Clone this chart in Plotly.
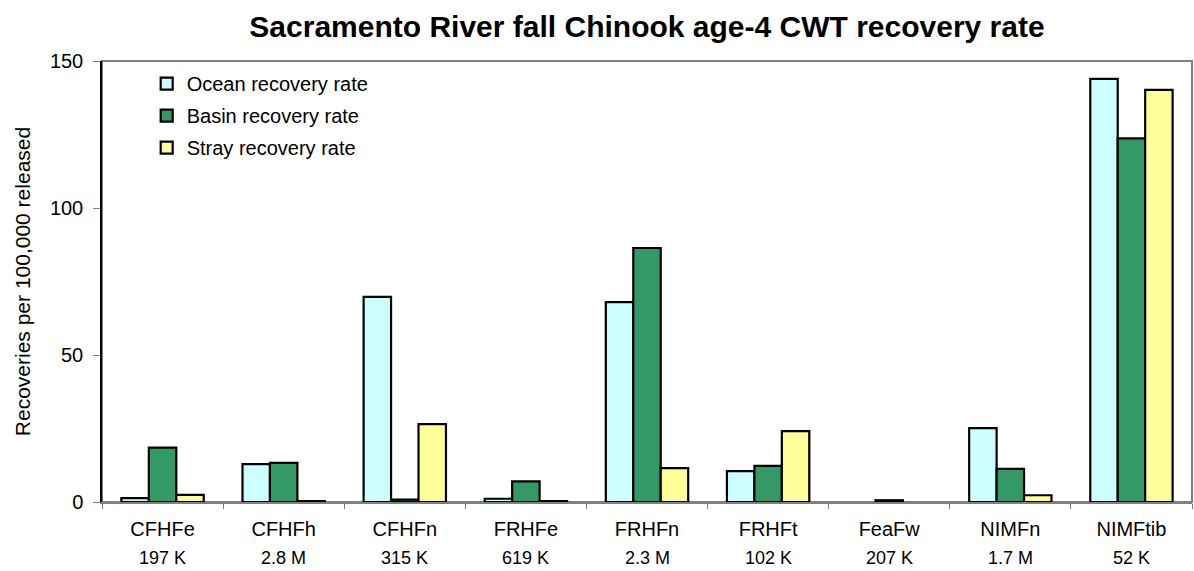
import plotly.graph_objects as go

# Release groups and their release sizes
groups = ["CFHFe", "CFHFh", "CFHFn", "FRHFe", "FRHFn", "FRHFt", "FeaFw", "NIMFn", "NIMFtib"]
releases = ["197 K", "2.8 M", "315 K", "619 K", "2.3 M", "102 K", "207 K", "1.7 M", "52 K"]

# Recoveries per 100,000 released
ocean = [1.3, 12.9, 69.8, 1.1, 68.0, 10.5, 0, 25.1, 143.9]
basin = [18.5, 13.3, 0.8, 7.0, 86.4, 12.3, 0.6, 11.3, 123.7]
stray = [2.4, 0.3, 26.5, 0.3, 11.5, 24.1, 0, 2.3, 140.2]

FONT = "Arial, Liberation Sans, sans-serif"

fig = go.Figure()
for name, vals, color in [
    ("Ocean recovery rate", ocean, "#CCFFFF"),
    ("Basin recovery rate", basin, "#339966"),
    ("Stray recovery rate", stray, "#FFFF99"),
]:
    fig.add_trace(go.Bar(
        x=groups, y=[v if v > 0 else None for v in vals], name=name,
        legendgroup=name,
        marker=dict(color=color, line=dict(color="black", width=2.2)),
    ))

# release size under each group label
for g, r in zip(groups, releases):
    fig.add_annotation(
        x=g, y=0, xref="x", yref="paper", text=r, showarrow=False,
        yanchor="middle", yshift=-56, font=dict(family=FONT, size=18, color="black"),
    )

# plot-area frame
fig.add_shape(type="rect", xref="paper", yref="paper", x0=0, y0=0, x1=1, y1=1,
              line=dict(color="#808080", width=2), layer="below")

fig.update_layout(
    width=1194, height=571,
    margin=dict(l=102, r=2, t=61, b=69),
    paper_bgcolor="white", plot_bgcolor="white",
    font=dict(family=FONT, color="black"),
    title=dict(
        text="<b>Sacramento River fall Chinook age-4 CWT recovery rate</b>",
        x=0.5, xref="paper", xanchor="center", y=0.953, yanchor="middle",
        font=dict(family=FONT, size=30, color="black"),
    ),
    barmode="group", bargap=0.32, bargroupgap=0,
    legend=dict(
        x=0.041, y=0.993, xanchor="left", yanchor="top",
        bgcolor="rgba(0,0,0,0)", font=dict(family=FONT, size=20, color="black"),
        tracegroupgap=3,
    ),
    xaxis=dict(
        showgrid=False, showline=True, linecolor="#808080", linewidth=2,
        ticks="outside", tickson="boundaries", ticklen=5, tickcolor="#808080",
        ticklabelstandoff=8,
        tickfont=dict(family=FONT, size=20, color="black"),
    ),
    yaxis=dict(
        range=[0, 150], tickvals=[0, 50, 100, 150], showgrid=False, zeroline=False,
        showline=True, linecolor="black", linewidth=1.5,
        ticks="outside", ticklen=7, tickcolor="#808080",
        ticklabelstandoff=6,
        tickfont=dict(family=FONT, size=20, color="black"),
        title=dict(text="Recoveries per 100,000 released",
                   font=dict(family=FONT, size=21, color="black"), standoff=14),
    ),
)

fig.write_html("out.html")
